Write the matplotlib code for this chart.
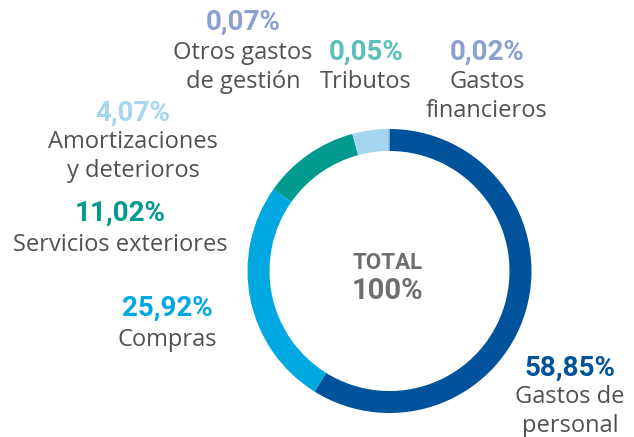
import matplotlib
matplotlib.use("Agg")
import matplotlib.pyplot as plt

# data
categories = ["Gastos de personal", "Compras", "Servicios exteriores",
              "Amortizaciones y deterioros", "Otros gastos de gestión",
              "Tributos", "Gastos financieros"]
values = [58.85, 25.92, 11.02, 4.07, 0.07, 0.05, 0.02]
pct_labels = ["58,85%", "25,92%", "11,02%", "4,07%", "0,07%", "0,05%", "0,02%"]
name_labels = ["Gastos de\npersonal", "Compras", "Servicios exteriores",
               "Amortizaciones\ny deterioros", "Otros gastos\nde gestión",
               "Tributos", "Gastos\nfinancieros"]
colors = ["#00529b", "#00a8e1", "#009a8e", "#a6d5f2", "#8b9fd0", "#5cc0b6", "#8b9fd0"]
center_text = ["TOTAL", "100%"]

W, H = 634, 437
fig = plt.figure(figsize=(W / 100, H / 100), dpi=100)
ax = fig.add_axes([0, 0, 1, 1])

cx, cy, r = 389.5, H - 271, 142
ax.pie(values, colors=colors, startangle=90, counterclock=False,
       center=(cx, cy), radius=r,
       wedgeprops=dict(width=22, edgecolor="none"))
ax.set_xlim(0, W)
ax.set_ylim(0, H)
ax.set_aspect("equal")
ax.axis("off")

gray = "#505153"
name_font = ["Open Sans", "DejaVu Sans"]
pct_font = ["Roboto", "DejaVu Sans"]

# label positions in pixels (x, y of percent line, y of first name line)
pos = [(570, 368, 397), (167, 308, 340), (120, 213, 245), (133, 113, 142),
       (243, 22, 53), (366, 52, 82), (487, 52, 82)]
line_h = 29
for i in range(len(values)):
    x, yp, yn = pos[i]
    ax.text(x, H - yp, pct_labels[i], color=colors[i], fontsize=20,
            fontweight="bold", family=pct_font, ha="center", va="center")
    for j, line in enumerate(name_labels[i].split("\n")):
        ax.text(x, H - (yn + j * line_h), line, color=gray, fontsize=17,
                family=name_font, ha="center", va="center")

ax.text(cx - 2, H - 263, center_text[0], color="#6d6e70", fontsize=16,
        fontweight="bold", family=pct_font, ha="center", va="center")
ax.text(cx - 2, H - 291, center_text[1], color="#6d6e70", fontsize=21,
        fontweight="bold", family=pct_font, ha="center", va="center")

fig.savefig("out.png", dpi=100)
plt.close()
